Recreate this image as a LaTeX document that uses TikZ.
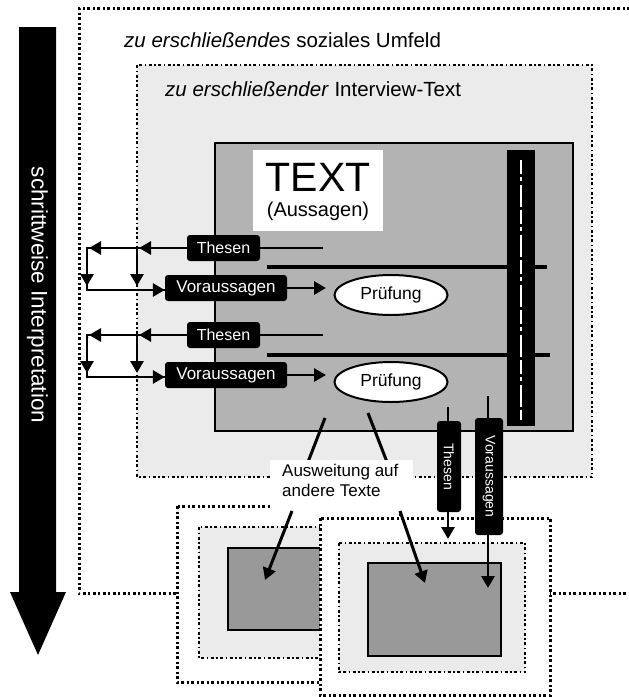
\documentclass[tikz,border=0pt]{standalone}
\usepackage{fontspec}
\setmainfont{Liberation Sans}
\usetikzlibrary{arrows.meta,shapes.geometric}
\definecolor{lightg}{HTML}{EBEBEB}
\definecolor{midg}{HTML}{B3B3B3}
\definecolor{darkg}{HTML}{999999}
\begin{document}
\begin{tikzpicture}[x=1pt,y=-1pt,
  dotbox/.style={line width=3pt, dash pattern=on 3pt off 2.5pt on 2pt off 2.5pt},
  thinbox/.style={line width=2.3pt, dash pattern=on 3pt off 2.5pt on 1.5pt off 2.5pt},
  ln/.style={line width=2.8pt},
  thick4/.style={line width=4pt},
  arr/.style={line width=2.8pt, -{Triangle[width=13pt,length=12pt]}},
  blk/.style={fill=black, text=white, rounded corners=3pt, inner sep=0pt, font=\fontsize{16}{18}\selectfont},
  pruef/.style={ellipse, draw, fill=white, line width=2pt, minimum width=113pt, minimum height=40pt, inner sep=0pt, font=\fontsize{17.5}{19}\selectfont},
  titlefont/.style={font=\fontsize{20.5}{23}\selectfont, anchor=west, inner sep=0pt}
]
\useasboundingbox (0,0) rectangle (629,697);

% big arrow
\fill[black] (19,27) -- (56,27) -- (56,592) -- (66,592) -- (38,655) -- (10,592) -- (19,592) -- cycle;
\node[rotate=-90, text=white, font=\fontsize{22.5}{24}\selectfont] (interp) at (37.5,295) {schrittweise Interpretation};

% outer social environment box (open to the right)
\draw[dotbox] (640,8) -- (79,8) -- (79,593) -- (640,593);
\node[titlefont] (t1) at (124,40) {\textit{zu erschließendes} soziales Umfeld};

% interview text box
\draw[thinbox, fill=lightg] (137,65) rectangle (592,477);
\node[titlefont] (t2) at (165,89) {\textit{zu erschließender} Interview-Text};

% TEXT box
\draw[line width=2pt, fill=midg] (215,143) rectangle (573,431);
\node[fill=white, minimum width=130pt, minimum height=81pt, inner sep=0pt] (wbox) at (318,190.5) {};
\node[font=\fontsize{41}{43}\selectfont, inner sep=0pt] (textlbl) at (318,177) {TEXT};
\node[font=\fontsize{20}{22}\selectfont, inner sep=0pt] (auss) at (318,211) {(Aussagen)};

% long horizontal lines
\draw[thick4] (267,267) -- (547,267);
\draw[thick4] (267,355) -- (550,355);

% vertical black bar
\fill[black] (507,150) rectangle (535,426);
\draw[white, line width=2pt, dash pattern=on 14pt off 3pt on 4pt off 4pt on 22pt off 3pt] (521,160) -- (521,420);

% Thesen / Voraussagen boxes
\node[blk, minimum width=73pt, minimum height=26pt] (th1) at (223.5,248) {Thesen};
\node[blk, minimum width=122pt, minimum height=26pt, font=\fontsize{17}{19}\selectfont] (vo1) at (226,288) {Voraussagen};
\node[blk, minimum width=73pt, minimum height=26pt] (th2) at (223.5,335) {Thesen};
\node[blk, minimum width=122pt, minimum height=26pt, font=\fontsize{17}{19}\selectfont] (vo2) at (226,375) {Voraussagen};

\node[pruef] (pr1) at (391,295) {Prüfung};
\node[pruef] (pr2) at (391,382) {Prüfung};

% short lines to the right of Thesen
\coordinate (s1) at (323,249);
\coordinate (s2) at (323,336);
\draw[ln] (th1.east) -- (th1.east -| s1);
\draw[ln] (th2.east) -- (th2.east -| s2);
% arrows Voraussagen -> Pruefung
\coordinate (a1) at (326,288);
\coordinate (a2) at (326,375);
\draw[arr] (vo1.east) -- (a1);
\draw[arr] (vo2.east) -- (a2);

% feedback loops on the left
\foreach \i/\ty/\vy in {1/248/290, 2/335/377}{
  \coordinate (ca\i) at (87,\ty);
  \coordinate (cb\i) at (137,\ty);
  \coordinate (cc\i) at (87,\vy);
  \coordinate (cd\i) at (137,\vy);
  \draw[ln] (th\i.west) -- (ca\i) -- (cc\i) -- (vo\i.west |- cc\i);
  \draw[arr] (th\i.west) -- ([xshift=2pt]cb\i);
  \draw[arr] ([xshift=16pt]ca\i) -- ([xshift=2pt]ca\i);
  \draw[arr] (cb\i) -- ([yshift=4pt]cd\i);
  \draw[arr] ([yshift=22pt]cc\i) -- ([yshift=4pt]cc\i);
  \draw[arr] ([xshift=-20pt]vo\i.west |- cc\i) -- (vo\i.west |- cc\i);
}

% lines from TEXT box to label
\coordinate (b1) at (325,418);
\coordinate (b2) at (368,413);
\coordinate (b1e) at (308,462);
\coordinate (b2e) at (387,462);
\draw[line width=3pt] (b1) -- (b1e);
\draw[line width=3pt] (b2) -- (b2e);

% left group of other texts
\draw[dotbox, fill=white] (177,506) rectangle (400,682);
\draw[thinbox, fill=lightg] (199,527) rectangle (400,658);
\draw[line width=2pt, fill=darkg] (228,548) rectangle (400,630);

% label
\node[fill=white, minimum width=143pt, minimum height=51pt, inner sep=0pt] (lblbox) at (341.5,485.5) {};
\node[font=\fontsize{17}{20}\selectfont, align=left, anchor=north west, inner sep=0pt] (lbl) at (282,464) {Ausweitung auf\\andere Texte};

% right group
\draw[dotbox, fill=white] (320,518) rectangle (550,695);
\draw[thinbox, fill=lightg] (339,543) rectangle (525,672);
\draw[line width=2pt, fill=darkg] (368,563) rectangle (501,656);

% arrows from label to other texts
\coordinate (l1) at (292,511);
\coordinate (l1e) at (265,580);
\coordinate (l2) at (400,511);
\coordinate (l2e) at (425,583);
\draw[arr, line width=3pt] (l1) -- (l1e);
\draw[arr, line width=3pt] (l2) -- (l2e);

% vertical Thesen / Voraussagen transfer
\coordinate (vt0) at (448,407);
\coordinate (vt1) at (448,539);
\coordinate (vv0) at (488,396);
\coordinate (vv1) at (488,588);
\draw[arr] (vt0) -- (vt1);
\draw[arr] (vv0) -- (vv1);
\node[blk, rotate=-90, minimum width=91pt, minimum height=24pt, font=\fontsize{14}{16}\selectfont] (thv) at (449,466.5) {Thesen};
\node[blk, rotate=-90, minimum width=117pt, minimum height=28pt, font=\fontsize{14}{16}\selectfont] (vov) at (489,476.5) {Voraussagen};

\end{tikzpicture}
\end{document}
